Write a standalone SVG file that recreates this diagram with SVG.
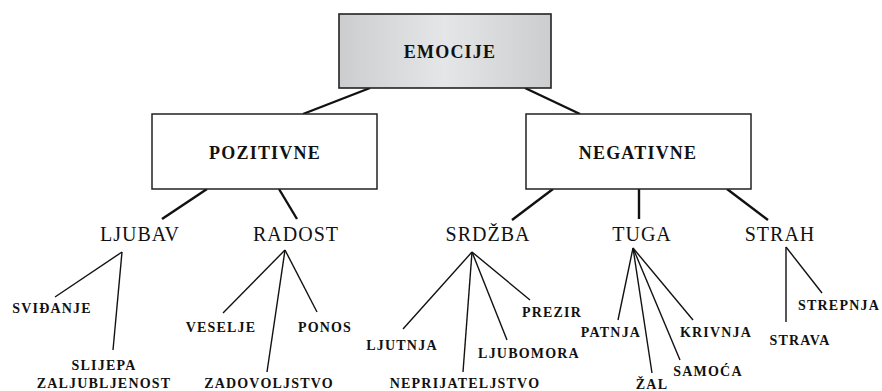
<svg xmlns="http://www.w3.org/2000/svg" width="882" height="391" viewBox="0 0 882 391">
<defs>
<linearGradient id="g" x1="0" y1="0" x2="1" y2="0">
<stop offset="0" stop-color="#cbcdcf"/>
<stop offset="0.5" stop-color="#e4e6e8"/>
<stop offset="1" stop-color="#cbcdcf"/>
</linearGradient>
<style>
.box{fill:#fff;stroke:#222;stroke-width:1.5}
.bt{font-family:"Liberation Serif","DejaVu Serif",serif;font-size:18px;font-weight:bold;letter-spacing:1.2px;text-anchor:middle;fill:#111}
.lt{font-family:"Liberation Serif","DejaVu Serif",serif;font-size:20px;letter-spacing:1px;text-anchor:middle;fill:#111}
.sl{font-family:"Liberation Serif","DejaVu Serif",serif;font-size:14px;font-weight:bold;letter-spacing:1.2px;text-anchor:middle;fill:#111}
.c1{stroke:#111;stroke-width:2.4;fill:none}
.c2{stroke:#111;stroke-width:1.4;fill:none}
</style>
</defs>
<g id="connectors">
<line class="c1" x1="370" y1="88" x2="303" y2="114"/>
<line class="c1" x1="525" y1="88" x2="580" y2="114"/>
<line class="c1" x1="207" y1="189" x2="162" y2="219"/>
<line class="c1" x1="279" y1="189" x2="297" y2="219"/>
<line class="c1" x1="553" y1="189" x2="512" y2="220"/>
<line class="c1" x1="639" y1="189" x2="639" y2="219"/>
<line class="c1" x1="727" y1="189" x2="768" y2="220"/>
<line class="c2" x1="122" y1="252" x2="55" y2="297"/>
<line class="c2" x1="122" y1="252" x2="113" y2="350"/>
<line class="c2" x1="285" y1="250" x2="223" y2="313"/>
<line class="c2" x1="285" y1="250" x2="267" y2="372"/>
<line class="c2" x1="285" y1="250" x2="317" y2="312"/>
<line class="c2" x1="472" y1="252" x2="403" y2="329"/>
<line class="c2" x1="472" y1="252" x2="463" y2="372"/>
<line class="c2" x1="472" y1="252" x2="507" y2="340"/>
<line class="c2" x1="472" y1="252" x2="530" y2="300"/>
<line class="c2" x1="633" y1="248" x2="618" y2="320"/>
<line class="c2" x1="633" y1="248" x2="652" y2="373"/>
<line class="c2" x1="633" y1="248" x2="680" y2="360"/>
<line class="c2" x1="633" y1="248" x2="693" y2="320"/>
<line class="c2" x1="786" y1="247" x2="786" y2="322"/>
<line class="c2" x1="786" y1="247" x2="822" y2="293"/>
</g>
<g id="emocije">
<rect x="339" y="14" width="212" height="74" fill="url(#g)" stroke="#222" stroke-width="1.6"/>
<text class="bt" x="450" y="58">EMOCIJE</text>
</g>
<g id="pozitivne">
<rect class="box" x="152" y="114" width="225" height="75"/>
<text class="bt" x="265" y="159">POZITIVNE</text>
</g>
<g id="negativne">
<rect class="box" x="526" y="114" width="225" height="75"/>
<text class="bt" x="638" y="159">NEGATIVNE</text>
</g>
<g id="ljubav"><text class="lt" x="140" y="241">LJUBAV</text></g>
<g id="radost"><text class="lt" x="296" y="241">RADOST</text></g>
<g id="srdzba"><text class="lt" x="488" y="241">SRDŽBA</text></g>
<g id="tuga"><text class="lt" x="642" y="241">TUGA</text></g>
<g id="strah"><text class="lt" x="780" y="241">STRAH</text></g>
<g id="svidanje"><text class="sl" x="52" y="313">SVIĐANJE</text></g>
<g id="slijepa"><text class="sl" x="104" y="370">SLIJEPA</text><text class="sl" x="104" y="388">ZALJUBLJENOST</text></g>
<g id="veselje"><text class="sl" x="221" y="332">VESELJE</text></g>
<g id="ponos"><text class="sl" x="325" y="332">PONOS</text></g>
<g id="zadovoljstvo"><text class="sl" x="269" y="388">ZADOVOLJSTVO</text></g>
<g id="ljutnja"><text class="sl" x="402" y="350">LJUTNJA</text></g>
<g id="neprijateljstvo"><text class="sl" x="465" y="388">NEPRIJATELJSTVO</text></g>
<g id="ljubomora"><text class="sl" x="529" y="358">LJUBOMORA</text></g>
<g id="prezir"><text class="sl" x="552" y="317">PREZIR</text></g>
<g id="patnja"><text class="sl" x="611" y="337">PATNJA</text></g>
<g id="krivnja"><text class="sl" x="716" y="337">KRIVNJA</text></g>
<g id="samoca"><text class="sl" x="708" y="376">SAMOĆA</text></g>
<g id="zal"><text class="sl" x="652" y="389">ŽAL</text></g>
<g id="strepnja"><text class="sl" x="839" y="310">STREPNJA</text></g>
<g id="strava"><text class="sl" x="800" y="345">STRAVA</text></g>
</svg>
